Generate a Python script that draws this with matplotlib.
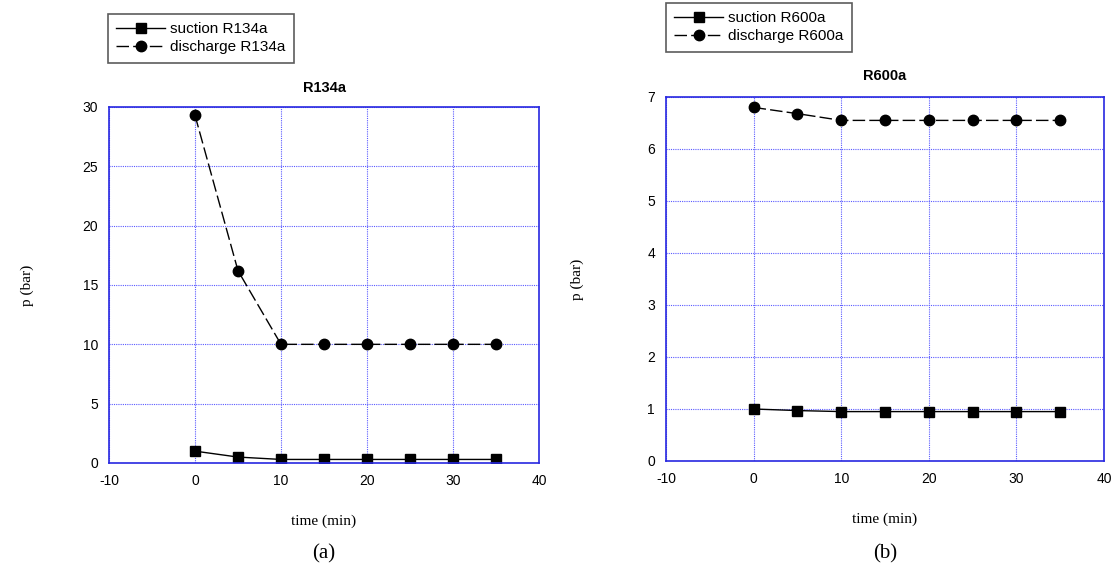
import numpy as np
import matplotlib.pyplot as plt

plt.rcParams['axes.unicode_minus'] = False

time = [0, 5, 10, 15, 20, 25, 30, 35]

suction_r134a = [1.0, 0.5, 0.3, 0.3, 0.3, 0.3, 0.3, 0.3]
discharge_r134a = [29.3, 16.2, 10.0, 10.0, 10.0, 10.0, 10.0, 10.0]

suction_r600a = [1.0, 0.97, 0.95, 0.95, 0.95, 0.95, 0.95, 0.95]
discharge_r600a = [6.8, 6.68, 6.55, 6.55, 6.55, 6.55, 6.55, 6.55]

W, H = 1118, 570
fig = plt.figure(figsize=(W / 100, H / 100), dpi=100)

blue = '#2828e0'
gridblue = '#5a5aff'
sans = 'Liberation Sans'
serif = 'Liberation Serif'


def pix_axes(x0, y0, x1, y1):
    return fig.add_axes([x0 / W, 1 - y1 / H, (x1 - x0) / W, (y1 - y0) / H])


def panel(ax, suc, dis, name, ymax, yticks, legend_top, title_y, ylab_x, cap):
    ax.plot(time, suc, color='black', lw=1, marker='s', ms=7,
            label='suction ' + name)
    ax.plot(time, dis, color='black', lw=1, marker='o', ms=7.5,
            dashes=(9, 3), label='discharge ' + name)
    ax.set_xlim(-10, 40)
    ax.set_ylim(0, ymax)
    ax.set_xticks(range(-10, 41, 10))
    ax.set_yticks(yticks)
    ax.grid(True, color=gridblue, ls=(0, (1, 1)), lw=0.8)
    for s in ax.spines.values():
        s.set_color(blue)
        s.set_linewidth(1.2)
    ax.tick_params(length=0, pad=8, labelsize=10)
    for lab in ax.get_xticklabels() + ax.get_yticklabels():
        lab.set_family(sans)
    ax.set_xlabel('time (min)', family=serif, fontsize=11, labelpad=19)
    ax.set_ylabel('p (bar)', family=serif, fontsize=11)
    ax.yaxis.set_label_coords(ylab_x, 0.5)
    ax.set_title(name, family=sans, fontweight='bold', fontsize=10.5,
                 y=title_y)
    leg = ax.legend(loc='upper left', bbox_to_anchor=legend_top,
                    bbox_transform=fig.transFigure, frameon=True,
                    fancybox=False, edgecolor='#333333',
                    prop={'family': sans, 'size': 11}, borderaxespad=0,
                    handlelength=3.2, handletextpad=0.3, borderpad=0.55,
                    labelspacing=0.25)
    leg.get_frame().set_linewidth(1.2)
    ax.text(0.5, -0.255, cap, transform=ax.transAxes, ha='center', va='center',
            family=serif, fontsize=15)


ax1 = pix_axes(109, 107, 539, 463)
panel(ax1, suction_r134a, discharge_r134a, 'R134a', 30, range(0, 31, 5),
      (108 / W, 1 - 14 / H), 1.02, -0.174, '(a)')

ax2 = pix_axes(666, 97, 1104, 461)
panel(ax2, suction_r600a, discharge_r600a, 'R600a', 7, range(0, 8),
      (666 / W, 1 - 3 / H), 1.025, -0.187, '(b)')

fig.savefig('out.png', dpi=100)
